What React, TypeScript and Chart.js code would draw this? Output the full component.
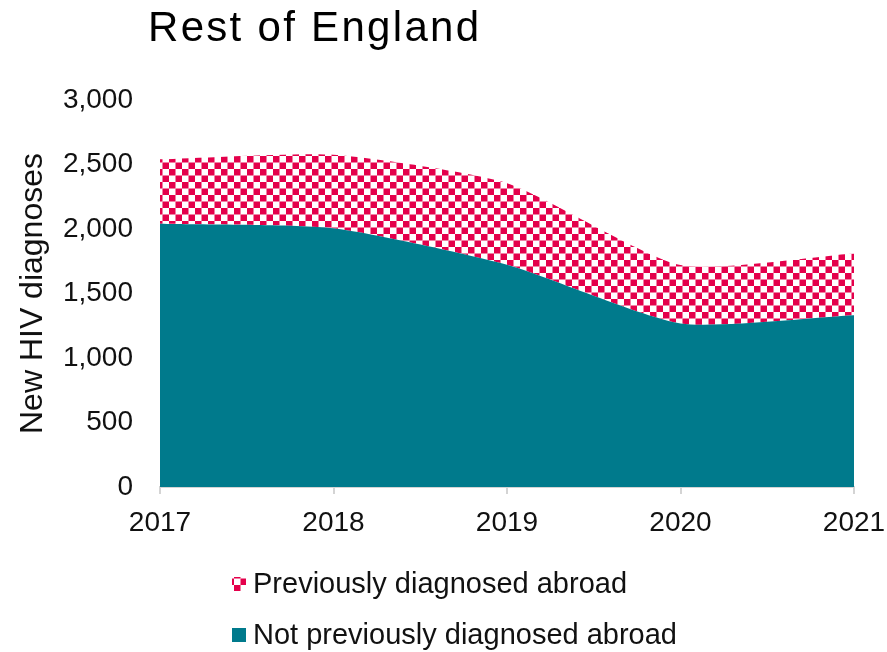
import { useEffect, useRef } from "react";
import { Chart, registerables } from "chart.js";

Chart.register(...registerables);

// Annual new HIV diagnoses, Rest of England
const years = ["2017", "2018", "2019", "2020", "2021"];
const notPreviouslyAbroad = [2040, 2005, 1722, 1268, 1332];
const previouslyAbroad = [500, 570, 633, 452, 478];
const yTickValues = [0, 500, 1000, 1500, 2000, 2500, 3000];
const seriesLabels = ["Not previously diagnosed abroad", "Previously diagnosed abroad"];
const chartTitle = "Rest of England";
const yAxisTitle = "New HIV diagnoses";

const TEAL = "#007a8c";
const RED = "#e4004b";
const TEXT = "#111111";
const AXIS = "#d4d4d4";
const FONT = "'Liberation Sans', Arial, Helvetica, sans-serif";

// Red and white checkerboard used for the "previously diagnosed abroad" band
function makeChecker(): CanvasPattern | string {
  const tile = document.createElement("canvas");
  tile.width = 13;
  tile.height = 13;
  const t = tile.getContext("2d");
  if (!t) return RED;
  t.fillStyle = "#ffffff";
  t.fillRect(0, 0, 13, 13);
  t.fillStyle = RED;
  t.fillRect(0, 0, 6.5, 6.5);
  t.fillRect(6.5, 6.5, 6.5, 6.5);
  const p = t.createPattern(tile, "repeat");
  return p ?? RED;
}

export default function App() {
  const canvasRef = useRef<HTMLCanvasElement | null>(null);

  useEffect(() => {
    const canvas = canvasRef.current;
    if (!canvas) return;
    const checker = makeChecker();

    // Title and stacked legend drawn on the canvas
    const decorations = {
      id: "decorations",
      afterDraw(chart: Chart) {
        const ctx = chart.ctx;
        ctx.save();
        ctx.fillStyle = "#000000";
        ctx.font = `42px ${FONT}`;
        (ctx as any).letterSpacing = "2.3px";
        ctx.textAlign = "left";
        ctx.textBaseline = "alphabetic";
        ctx.fillText(chartTitle, 148, 41);
        (ctx as any).letterSpacing = "0px";

        const items = [
          { label: seriesLabels[1], fill: checker, cy: 584 },
          { label: seriesLabels[0], fill: TEAL, cy: 635 },
        ];
        ctx.font = `29px ${FONT}`;
        ctx.textBaseline = "middle";
        for (const it of items) {
          ctx.fillStyle = it.fill as any;
          ctx.fillRect(232, it.cy - 7, 14, 14);
          ctx.fillStyle = TEXT;
          ctx.fillText(it.label, 253, it.cy + 1);
        }
        ctx.restore();
      },
    };

    const chart = new Chart(canvas, {
      type: "line",
      data: {
        labels: years,
        datasets: [
          {
            label: seriesLabels[0],
            data: notPreviouslyAbroad,
            backgroundColor: TEAL,
            borderWidth: 0,
            pointRadius: 0,
            fill: "origin",
            tension: 0.2,
          },
          {
            label: seriesLabels[1],
            data: previouslyAbroad,
            backgroundColor: checker as any,
            borderWidth: 0,
            pointRadius: 0,
            fill: "-1",
            tension: 0.2,
          },
        ],
      },
      options: {
        animation: false,
        responsive: true,
        maintainAspectRatio: false,
        layout: { padding: { top: 100, right: 33, bottom: 0, left: 0 } },
        plugins: {
          legend: { display: false },
          title: { display: false },
          tooltip: { enabled: false },
        },
        scales: {
          x: {
            offset: false,
            grid: {
              display: true,
              drawOnChartArea: false,
              drawTicks: true,
              tickLength: 7,
              color: AXIS,
              lineWidth: 2,
            },
            border: { display: true, color: AXIS, width: 2 },
            ticks: {
              color: TEXT,
              font: { family: FONT, size: 28 },
              padding: 12,
              maxRotation: 0,
            },
            afterFit: (scale: any) => {
              scale.height = 165;
              scale.paddingLeft = 0;
              scale.paddingRight = 0;
            },
          },
          y: {
            stacked: true,
            min: 0,
            max: 3000,
            grid: { display: false },
            border: { display: false },
            afterBuildTicks: (scale: any) => {
              scale.ticks = yTickValues.map((v) => ({ value: v }));
            },
            ticks: {
              color: TEXT,
              font: { family: FONT, size: 28 },
              padding: 19,
              callback: (v: any) => Number(v).toLocaleString("en-GB"),
            },
            title: {
              display: true,
              text: yAxisTitle,
              color: TEXT,
              font: { family: FONT, size: 32 },
              padding: { top: 14, bottom: 0 },
            },
            afterFit: (scale: any) => {
              scale.width = 160;
            },
          },
        },
      },
      plugins: [decorations],
    });

    return () => chart.destroy();
  }, []);

  return (
    <div style={{ position: "absolute", left: 0, top: 0, width: 887, height: 652, background: "#ffffff" }}>
      <canvas ref={canvasRef} />
    </div>
  );
}
